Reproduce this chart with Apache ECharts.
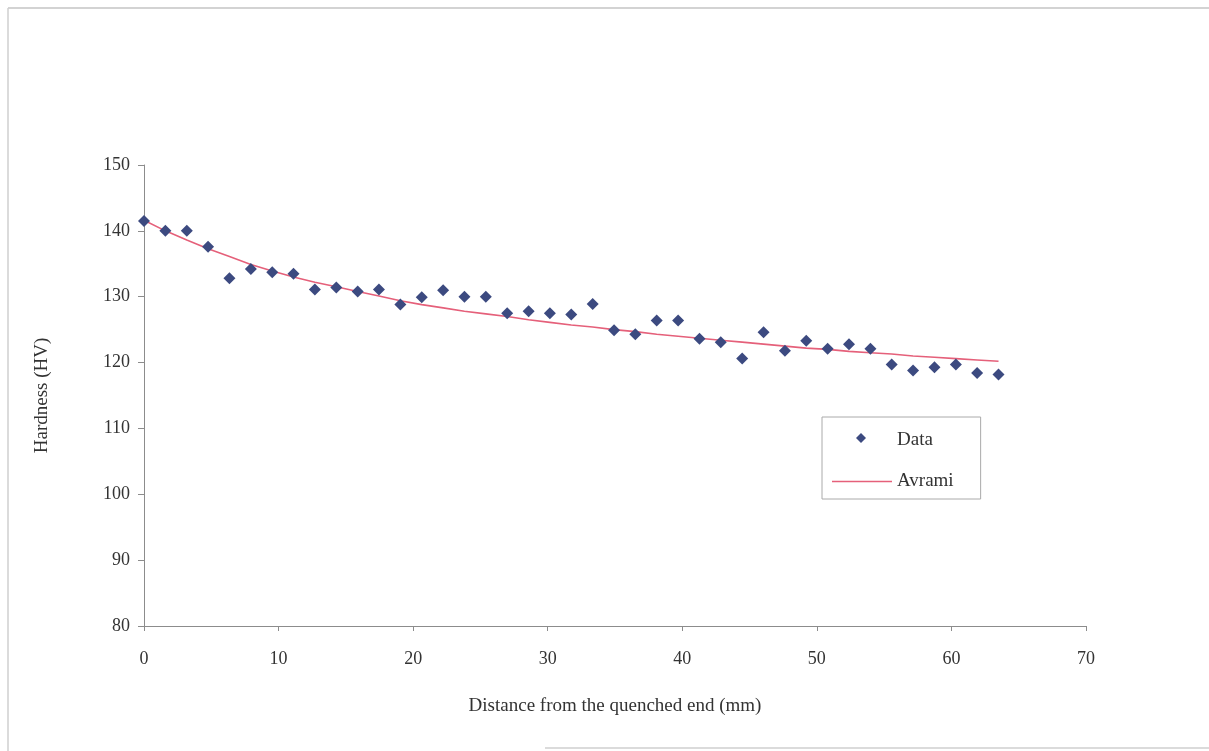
<!DOCTYPE html>
<html>
<head>
<meta charset="utf-8">
<script src="https://cdn.jsdelivr.net/npm/echarts@6/dist/echarts.min.js"></script>
<style>html,body{margin:0;padding:0;background:#fff;}#c{width:1209px;height:751px;}</style>
</head>
<body>
<div id="c"></div>
<script>
const distances = [0, 1.59, 3.18, 4.76, 6.35, 7.94, 9.53, 11.11, 12.7, 14.29, 15.88, 17.46, 19.05, 20.64, 22.23, 23.81, 25.4, 26.99, 28.58, 30.16, 31.75, 33.34, 34.93, 36.51, 38.1, 39.69, 41.28, 42.86, 44.45, 46.04, 47.63, 49.21, 50.8, 52.39, 53.98, 55.56, 57.15, 58.74, 60.33, 61.91, 63.5];
const hardnessData = [141.5, 140.0, 140.0, 137.6, 132.8, 134.2, 133.7, 133.5, 131.1, 131.4, 130.8, 131.1, 128.8, 129.9, 131.0, 130.0, 130.0, 127.5, 127.8, 127.5, 127.3, 128.9, 124.9, 124.3, 126.4, 126.4, 123.6, 123.1, 120.6, 124.6, 121.8, 123.3, 122.1, 122.8, 122.1, 119.7, 118.8, 119.3, 119.7, 118.4, 118.2];
const avramiFit = [141.6, 140.0, 138.6, 137.3, 136.1, 134.9, 133.9, 133.0, 132.2, 131.5, 130.8, 130.1, 129.4, 128.8, 128.3, 127.8, 127.4, 127.0, 126.5, 126.1, 125.7, 125.4, 125.0, 124.7, 124.3, 124.0, 123.7, 123.4, 123.1, 122.8, 122.5, 122.2, 122.0, 121.7, 121.5, 121.3, 121.0, 120.8, 120.6, 120.4, 120.2];
const xTicks = [0, 10, 20, 30, 40, 50, 60, 70];
const yTicks = [80, 90, 100, 110, 120, 130, 140, 150];

const font = '"Liberation Serif", "DejaVu Serif", serif';
const chart = echarts.init(document.getElementById('c'));
chart.setOption({
  animation: false,
  backgroundColor: '#ffffff',
  grid: { left: 144, top: 165, width: 942, height: 461, containLabel: false },
  xAxis: {
    type: 'value', min: xTicks[0], max: xTicks[xTicks.length - 1], interval: 10,
    name: 'Distance from the quenched end (mm)', nameLocation: 'middle', nameGap: 71,
    nameTextStyle: { fontFamily: font, fontSize: 19, color: '#333' },
    axisLine: { show: true, onZero: false, lineStyle: { color: '#8c8c8c', width: 1 } },
    axisTick: { show: true, inside: false, length: 5, lineStyle: { color: '#8c8c8c' } },
    axisLabel: { fontFamily: font, fontSize: 18, color: '#333', margin: 24 },
    splitLine: { show: false }
  },
  yAxis: {
    type: 'value', min: yTicks[0], max: yTicks[yTicks.length - 1], interval: 10,
    name: 'Hardness (HV)', nameLocation: 'middle', nameGap: 92, nameRotate: 90,
    nameTextStyle: { fontFamily: font, fontSize: 19, color: '#333' },
    axisLine: { show: true, onZero: false, lineStyle: { color: '#8c8c8c', width: 1 } },
    axisTick: { show: true, inside: false, length: 6, lineStyle: { color: '#8c8c8c' } },
    axisLabel: { fontFamily: font, fontSize: 18, color: '#333', margin: 14 },
    splitLine: { show: false }
  },
  legend: {
    show: true, orient: 'vertical', left: 822, top: 417,
    padding: [14, 27, 8, 10], itemGap: 22,
    backgroundColor: '#fff', borderColor: '#aaa', borderWidth: 1,
    itemWidth: 60, itemHeight: 14,
    textStyle: { fontFamily: font, fontSize: 19, color: '#333', padding: [0, 0, 0, 0] },
    data: [
      { name: 'Data', icon: 'rect', itemStyle: { opacity: 0 } },
      { name: 'Avrami', icon: 'path://M0,6 L60,6 L60,7.4 L0,7.4 Z' }
    ]
  },
  graphic: [
    { type: 'line', shape: { x1: 8, y1: 8, x2: 1209, y2: 8 }, style: { stroke: '#c4c4c4', lineWidth: 1.5 } },
    { type: 'line', shape: { x1: 8, y1: 8, x2: 8, y2: 751 }, style: { stroke: '#cfcfcf', lineWidth: 1.5 } },
    { type: 'line', shape: { x1: 545, y1: 748, x2: 1209, y2: 748 }, style: { stroke: '#cfcfcf', lineWidth: 1.5 } },
    { type: 'polygon', shape: { points: [[861, 433], [866, 438], [861, 443], [856, 438]] }, style: { fill: '#3c4a80' }, z: 100 }
  ],
  series: [
    {
      name: 'Avrami', type: 'line', showSymbol: false, symbol: 'none', smooth: false,
      data: distances.map((d, i) => [d, avramiFit[i]]),
      lineStyle: { color: '#e5607a', width: 1.6 },
      itemStyle: { color: '#e5607a' }, z: 2
    },
    {
      name: 'Data', type: 'scatter', symbol: 'diamond', symbolSize: 12,
      data: distances.map((d, i) => [d, hardnessData[i]]),
      itemStyle: { color: '#3c4a80', opacity: 1 }, z: 3
    }
  ]
});
</script>
</body>
</html>
